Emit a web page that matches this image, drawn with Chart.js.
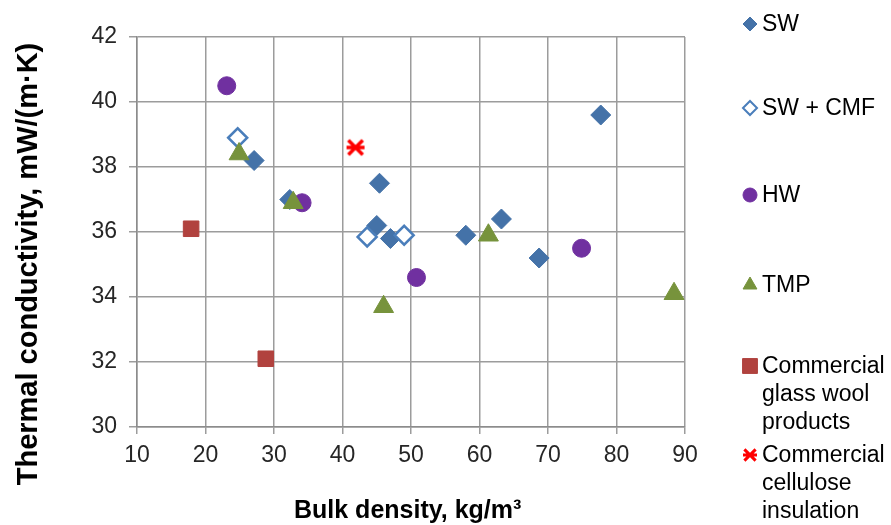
<!DOCTYPE html>
<html>
<head>
<meta charset="utf-8">
<script src="https://cdn.jsdelivr.net/npm/chart.js@4/dist/chart.umd.min.js"></script>
<style>
  html, body { margin: 0; padding: 0; background: #fff; }
  #wrap { width: 891px; height: 525px; }
</style>
</head>
<body>
<div id="wrap"><canvas id="chart" width="891" height="525"></canvas></div>
<script>
// values
const swX = [77.7, 27.1, 45.4, 32.3, 45.0, 47.0, 58.0, 63.2, 68.7];
const swY = [39.6, 38.2, 37.5, 37.0, 36.2, 35.8, 35.9, 36.4, 35.2];
const cmfX = [24.7, 43.6, 49.0];
const cmfY = [38.9, 35.85, 35.9];
const hwX = [23.1, 34.1, 50.8, 74.9];
const hwY = [40.5, 36.9, 34.6, 35.5];
const tmpX = [24.9, 32.8, 61.3, 46.0, 88.4];
const tmpY = [38.4, 36.9, 35.9, 33.7, 34.1];
const glassX = [17.9, 28.8];
const glassY = [36.1, 32.1];
const celluloseX = [41.9];
const celluloseY = [38.6];

const seriesNames = [["SW"], ["SW + CMF"], ["HW"], ["TMP"],
  ["Commercial", "glass wool", "products"],
  ["Commercial", "cellulose", "insulation"]];

const xTitle = "Bulk density, kg/m\u00B3";
const yTitle = "Thermal conductivity, mW/(m\u00B7K)";

const FONT = "'Liberation Sans', Arial, sans-serif";

function pts(xs, ys) {
  return xs.map((x, i) => ({ x: x, y: ys[i] }));
}

// Excel-style asterisk marker (X with a horizontal bar)
function drawStar(g, cx, cy, s, lw) {
  g.lineWidth = lw;
  g.lineCap = "butt";
  g.beginPath();
  g.moveTo(cx - s * 0.8, cy - s * 0.8); g.lineTo(cx + s * 0.8, cy + s * 0.8);
  g.moveTo(cx + s * 0.8, cy - s * 0.8); g.lineTo(cx - s * 0.8, cy + s * 0.8);
  g.moveTo(cx - s, cy); g.lineTo(cx + s, cy);
  g.stroke();
}
function makeStar(size, color) {
  const c = document.createElement("canvas");
  c.width = size; c.height = size;
  const g = c.getContext("2d");
  g.strokeStyle = color;
  drawStar(g, size / 2, size / 2, 9, 3.5);
  return c;
}
const starBig = makeStar(22, "#FF0000");

const datasets = [
  { data: pts(swX, swY), pointStyle: "rectRot", pointRadius: 10, backgroundColor: "#4472A8", borderColor: "#4472A8", borderWidth: 1, order: 6 },
  { data: pts(cmfX, cmfY), pointStyle: "rectRot", pointRadius: 9.5, backgroundColor: "#ffffff", borderColor: "#4A7EBB", borderWidth: 2.5, order: 5 },
  { data: pts(hwX, hwY), pointStyle: "circle", pointRadius: 9, backgroundColor: "#7030A0", borderColor: "#7030A0", borderWidth: 1, order: 4 },
  { data: pts(tmpX, tmpY), pointStyle: "triangle", pointRadius: 11.5, backgroundColor: "#77933C", borderColor: "#77933C", borderWidth: 1, order: 3 },
  { data: pts(glassX, glassY), pointStyle: "rect", pointRadius: 11, backgroundColor: "#B1423E", borderColor: "#B1423E", borderWidth: 1, order: 2 },
  { data: pts(celluloseX, celluloseY), pointStyle: starBig, pointRadius: 9, backgroundColor: "#FF0000", borderColor: "#FF0000", borderWidth: 3, order: 1 }
];
datasets.forEach((d, i) => {
  d.label = seriesNames[i].join(" ");
  d.pointHoverRadius = d.pointRadius;
});

// axis titles and the side legend are drawn by hand
const extrasPlugin = {
  id: "extras",
  afterDraw(chart) {
    const ctx = chart.ctx;
    ctx.save();
    ctx.fillStyle = "#000";
    ctx.textBaseline = "alphabetic";

    // x title
    ctx.font = "bold 25px " + FONT;
    ctx.textAlign = "left";
    ctx.fillText(xTitle, 294, 518);

    // y title
    ctx.font = "bold 29px " + FONT;
    ctx.save();
    ctx.translate(37, 264);
    ctx.rotate(-Math.PI / 2);
    ctx.textAlign = "center";
    ctx.fillText(yTitle, 0, 0);
    ctx.restore();
    ctx.restore();

    // legend
    const legendTop = [24, 108, 195, 285, 366, 455];
    const lineH = 28;
    ctx.save();
    ctx.font = "23px " + FONT;
    ctx.textAlign = "left";
    ctx.textBaseline = "middle";
    datasets.forEach((d, i) => {
      const y = legendTop[i];
      ctx.save();
      ctx.fillStyle = d.backgroundColor;
      ctx.strokeStyle = d.borderColor;
      if (d.pointStyle === starBig) {
        drawStar(ctx, 750, y, 7, 3);
      } else {
        ctx.lineWidth = d.borderWidth > 1 ? 2 : 1;
        const r = d.pointStyle === "triangle" ? 8 : (d.pointStyle === "rect" ? 10.5 : 7);
        Chart.helpers.drawPoint(ctx, {
          pointStyle: d.pointStyle, radius: r, rotation: 0, borderWidth: ctx.lineWidth
        }, 750, y);
      }
      ctx.restore();
      ctx.fillStyle = "#000";
      seriesNames[i].forEach((line, k) => {
        ctx.fillText(line, 762, y + 1 + k * lineH);
      });
    });
    ctx.restore();
  }
};

new Chart(document.getElementById("chart"), {
  type: "scatter",
  data: { datasets: datasets },
  plugins: [extrasPlugin],
  options: {
    responsive: false,
    animation: false,
    events: [],
    layout: { padding: { top: 37, right: 206, left: 0, bottom: 0 } },
    plugins: { legend: { display: false }, tooltip: { enabled: false } },
    scales: {
      x: {
        type: "linear",
        min: 10, max: 90,
        afterFit(scale) { scale.height = 98; },
        ticks: { stepSize: 10, color: "#262626", padding: 8, font: { family: FONT, size: 23 } },
        grid: { color: "#9C9C9C", lineWidth: 1.5, tickLength: 7, drawTicks: true },
        border: { color: "#8C8C8C", width: 1.5 }
      },
      y: {
        type: "linear",
        min: 30, max: 42,
        afterFit(scale) { scale.width = 137; },
        ticks: { stepSize: 2, color: "#262626", padding: 12, font: { family: FONT, size: 23 } },
        grid: { color: "#9C9C9C", lineWidth: 1.5, tickLength: 8, drawTicks: true },
        border: { color: "#8C8C8C", width: 1.5 }
      }
    }
  }
});
</script>
</body>
</html>
